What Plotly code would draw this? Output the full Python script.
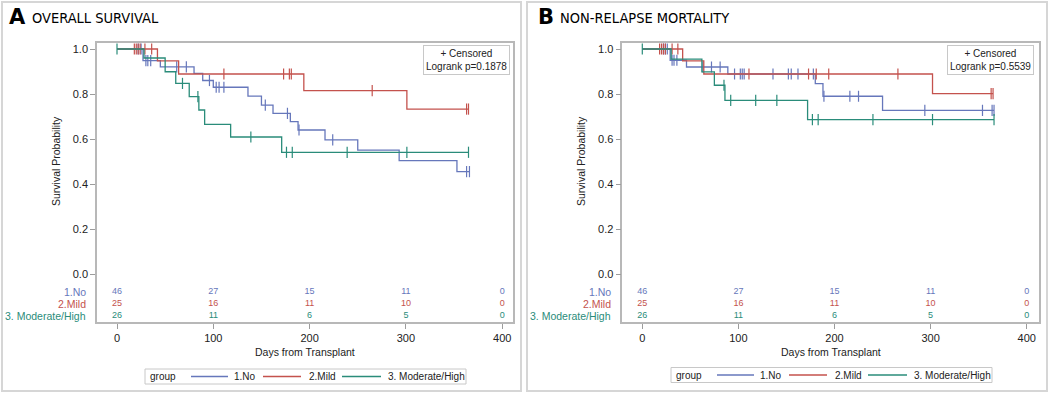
import plotly.graph_objects as go

# ---------------- data ----------------
time_ticks = [0, 100, 200, 300, 400]
surv_ticks = [0.0, 0.2, 0.4, 0.6, 0.8, 1.0]
group_labels = ["1.No", "2.Mild", "3. Moderate/High"]
group_colors = ["#6677bb", "#c4524d", "#2a8c7a"]

# Panel A: Overall survival
os_no_event_t = [27, 45, 80, 89, 100, 136, 150, 162, 180, 188, 216, 250, 293, 353]
os_no_surv = [0.948, 0.921, 0.892, 0.860, 0.830, 0.791, 0.751, 0.714, 0.677, 0.640, 0.596, 0.551, 0.504, 0.455]
os_no_cens = [22, 25, 30, 32, 35, 62, 72, 96, 103, 106, 111, 154, 177, 189, 224, 363, 366]
os_mild_event_t = [42, 64, 194, 301]
os_mild_surv = [0.947, 0.889, 0.815, 0.733]
os_mild_cens = [18, 20, 22, 24, 29, 36, 111, 173, 179, 181, 265, 363, 365]
os_mod_event_t = [28, 50, 61, 75, 85, 91, 118, 171]
os_mod_surv = [0.960, 0.899, 0.847, 0.788, 0.729, 0.665, 0.609, 0.541]
os_mod_cens = [0, 68, 84, 139, 176, 182, 239, 301, 365]
os_risk_no = [46, 27, 15, 11, 0]
os_risk_mild = [25, 16, 11, 10, 0]
os_risk_mod = [26, 11, 6, 5, 0]
os_pvalue = "0.1878"

# Panel B: Non-relapse mortality
nrm_no_event_t = [29, 46, 89, 180, 188, 250]
nrm_no_surv = [0.950, 0.920, 0.889, 0.846, 0.790, 0.727]
nrm_no_cens = [22, 24, 26, 31, 33, 36, 63, 72, 81, 96, 102, 104, 106, 136, 152, 155, 162, 178,
               189, 216, 225, 294, 354, 364, 366]
nrm_mild_event_t = [42, 64, 302]
nrm_mild_surv = [0.947, 0.889, 0.802]
nrm_mild_cens = [18, 20, 22, 24, 31, 37, 111, 173, 181, 194, 266, 363, 365]
nrm_mod_event_t = [30, 62, 75, 86, 172]
nrm_mod_surv = [0.955, 0.898, 0.839, 0.772, 0.686]
nrm_mod_cens = [0, 85, 92, 118, 140, 177, 183, 240, 302, 366]
nrm_risk_no = [46, 27, 15, 11, 0]
nrm_risk_mild = [25, 16, 11, 10, 0]
nrm_risk_mod = [26, 11, 6, 5, 0]
nrm_pvalue = "0.5539"

# ---------------- layout helpers ----------------
W, H = 1050, 394
FONT = "Liberation Sans, Arial, sans-serif"
TITLE_FONT = "Liberation Sans Narrow, DejaVu Sans Condensed, Lato, sans-serif"
LETTER_FONT = "DejaVu Sans, Liberation Sans, sans-serif"
TXT = "#222222"


def fx(p):
    return p / W


def fy(p):
    return 1 - p / H


def level_at(t, ev_t, ev_s):
    s = 1.0
    for et, es in zip(ev_t, ev_s):
        if et <= t:
            s = es
    return s


panels = [
    dict(xa="x", ya="y",
         groups=[(os_no_event_t, os_no_surv, os_no_cens, os_risk_no),
                 (os_mild_event_t, os_mild_surv, os_mild_cens, os_risk_mild),
                 (os_mod_event_t, os_mod_surv, os_mod_cens, os_risk_mod)]),
    dict(xa="x2", ya="y2",
         groups=[(nrm_no_event_t, nrm_no_surv, nrm_no_cens, nrm_risk_no),
                 (nrm_mild_event_t, nrm_mild_surv, nrm_mild_cens, nrm_risk_mild),
                 (nrm_mod_event_t, nrm_mod_surv, nrm_mod_cens, nrm_risk_mod)]),
]
risk_rows = [-0.079, -0.133, -0.185]

fig = go.Figure()
for p in panels:
    for gi, (ev_t, ev_s, cens, risk) in enumerate(p["groups"]):
        col = group_colors[gi]
        end_t = max(cens + ev_t)
        xs = [0] + ev_t + [end_t]
        ys = [1.0] + ev_s + [ev_s[-1]]
        fig.add_trace(go.Scatter(
            x=xs, y=ys, mode="lines", name=group_labels[gi],
            line=dict(color=col, width=1.3, shape="hv"),
            xaxis=p["xa"], yaxis=p["ya"], showlegend=False, hoverinfo="skip"))
        fig.add_trace(go.Scatter(
            x=cens, y=[level_at(c, ev_t, ev_s) for c in cens], mode="markers",
            name=group_labels[gi] + " censored",
            marker=dict(symbol="line-ns", size=8, line=dict(color=col, width=1.2)),
            xaxis=p["xa"], yaxis=p["ya"], showlegend=False, hoverinfo="skip"))
        fig.add_trace(go.Scatter(
            x=time_ticks, y=[risk_rows[gi]] * len(time_ticks), mode="text",
            text=[str(v) for v in risk], textfont=dict(family=FONT, size=9, color=col),
            xaxis=p["xa"], yaxis=p["ya"], showlegend=False, hoverinfo="skip",
            cliponaxis=False))

axis_common = dict(ticks="outside", ticklen=5, tickcolor="#9c9c9c", tickwidth=1,
                   showline=True, mirror=True, linecolor="#b8b8b8", linewidth=1.5,
                   showgrid=False, zeroline=False,
                   tickfont=dict(family=FONT, size=11, color=TXT))

fig.update_layout(
    width=W, height=H, margin=dict(l=0, r=0, t=0, b=0),
    paper_bgcolor="white", plot_bgcolor="white", showlegend=False,
    xaxis=dict(domain=[fx(97), fx(513)], range=[-20.77, 411.21], anchor="y",
               tickvals=time_ticks, **axis_common),
    yaxis=dict(domain=[fy(322), fy(43)], range=[-0.2133, 1.0267], anchor="x",
               tickvals=surv_ticks, tickformat=".1f", **axis_common),
    xaxis2=dict(domain=[fx(622.3), fx(1039)], range=[-20.81, 412.8], anchor="y2",
                tickvals=time_ticks, **axis_common),
    yaxis2=dict(domain=[fy(322), fy(43)], range=[-0.2133, 1.0267], anchor="x2",
                tickvals=surv_ticks, tickformat=".1f", **axis_common),
)

# panel borders
for x0, x1 in [(2, 521), (527, 1047)]:
    fig.add_shape(type="rect", xref="paper", yref="paper",
                  x0=fx(x0), x1=fx(x1), y0=fy(391), y1=fy(2),
                  line=dict(color="#d6d6d6", width=2), fillcolor="rgba(0,0,0,0)")

ann = []
# panel titles
for letter, title, lx, tx in [("A", "OVERALL SURVIVAL", 7, 30), ("B", "NON-RELAPSE MORTALITY", 536, 558)]:
    ann.append(dict(text="<b>" + letter + "</b>", x=fx(lx), y=fy(17), xref="paper", yref="paper",
                    xanchor="left", yanchor="middle", showarrow=False,
                    font=dict(family=LETTER_FONT, size=21, color="black")))
    ann.append(dict(text=title, x=fx(tx), y=fy(18), xref="paper", yref="paper",
                    xanchor="left", yanchor="middle", showarrow=False,
                    font=dict(family=TITLE_FONT, size=14.5, color="black")))

# axis titles, at-risk labels, inset boxes
for (ytx, xtx, lab_x, box_x, pval) in [(56, 305, 88, 466, os_pvalue),
                                        (581, 831, 613, 990, nrm_pvalue)]:
    ann.append(dict(text="Survival Probability", x=fx(ytx), y=fy(161), xref="paper", yref="paper",
                    textangle=-90, xanchor="center", yanchor="middle", showarrow=False,
                    font=dict(family=FONT, size=10.5, color=TXT)))
    ann.append(dict(text="Days from Transplant", x=fx(xtx), y=fy(352), xref="paper", yref="paper",
                    xanchor="center", yanchor="middle", showarrow=False,
                    font=dict(family=FONT, size=10.5, color=TXT)))
    for gi, ry in enumerate([291.7, 304, 315.7]):
        ann.append(dict(text=group_labels[gi], x=fx(lab_x), y=fy(ry), xref="paper", yref="paper",
                        xanchor="right", yanchor="middle", showarrow=False,
                        font=dict(family=FONT, size=10.5, color=group_colors[gi])))
    ann.append(dict(text="+ Censored<br>Logrank p=" + pval, x=fx(box_x), y=fy(60),
                    xref="paper", yref="paper", xanchor="center", yanchor="middle",
                    showarrow=False, align="center", bgcolor="white",
                    bordercolor="#c8c8c8", borderwidth=1, borderpad=2,
                    font=dict(family=FONT, size=10, color=TXT)))

# legends (group key) drawn below each panel
for lx0, ly0 in [(145, 369), (671, 367.5)]:
    ly1 = ly0 + 15
    yc = (ly0 + ly1) / 2
    fig.add_shape(type="rect", xref="paper", yref="paper",
                  x0=fx(lx0), x1=fx(lx0 + 321), y0=fy(ly1), y1=fy(ly0),
                  line=dict(color="#c8c8c8", width=1), fillcolor="white")
    ann.append(dict(text="group", x=fx(lx0 + 3), y=fy(yc), xref="paper", yref="paper",
                    xanchor="left", yanchor="middle", showarrow=False,
                    font=dict(family=FONT, size=10, color=TXT)))
    for gi, (s0, s1, t0) in enumerate([(46, 83, 87), (118, 156, 162), (197, 236, 241)]):
        fig.add_shape(type="line", xref="paper", yref="paper",
                      x0=fx(lx0 + s0), x1=fx(lx0 + s1), y0=fy(yc), y1=fy(yc),
                      line=dict(color=group_colors[gi], width=1.3))
        ann.append(dict(text=group_labels[gi], x=fx(lx0 + t0), y=fy(yc), xref="paper", yref="paper",
                        xanchor="left", yanchor="middle", showarrow=False,
                        font=dict(family=FONT, size=10, color=TXT)))

fig.update_layout(annotations=ann)
fig.write_html("out.html", config={"displayModeBar": False},
               post_script="document.body.style.margin='0px';")
